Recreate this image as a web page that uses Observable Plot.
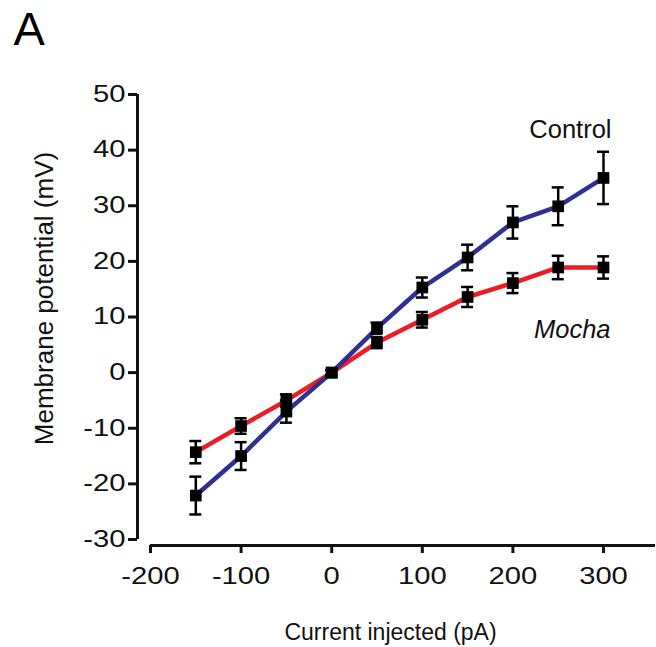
<!DOCTYPE html>
<html>
<head>
<meta charset="utf-8">
<script src="https://cdn.jsdelivr.net/npm/d3@7"></script>
<script src="https://cdn.jsdelivr.net/npm/@observablehq/plot@0.6"></script>
<style>
  html, body { margin: 0; padding: 0; background: #fff; }
  #chart { width: 656px; height: 647px; }
</style>
</head>
<body>
<div id="chart"></div>
<script>
// ---- data ----
const currents = [-150, -100, -50, 0, 50, 100, 150, 200, 250, 300];
const controlMean = [-22.1, -15.0, -7.0, 0, 8.0, 15.3, 20.7, 27.0, 29.9, 35.0];
const controlSem  = [3.4, 2.5, 2.0, 0.5, 1.0, 1.8, 2.3, 2.9, 3.4, 4.7];
const mochaMean   = [-14.3, -9.6, -5.0, 0, 5.4, 9.5, 13.6, 16.1, 18.9, 18.9];
const mochaSem    = [2.0, 1.4, 1.1, 0.4, 1.0, 1.4, 1.8, 1.8, 2.1, 2.0];
const xTicks = [-200, -100, 0, 100, 200, 300];
const yTicks = [-30, -20, -10, 0, 10, 20, 30, 40, 50];
const seriesNames = ["Control", "Mocha"];
const seriesColors = ["#2e3192", "#ed1c24"];

const control = currents.map((x, i) => ({series: "Control", x, y: controlMean[i], e: controlSem[i]}));
const mocha = currents.map((x, i) => ({series: "Mocha", x, y: mochaMean[i], e: mochaSem[i]}));
const all = [...mocha, ...control];

// scale geometry: axes offset from the data frame
const xPx = 453 / 500;        // px per pA
const yPx = 445 / 80;         // px per mV
const xMin = -200 - 13 / xPx; // y-axis line sits left of -200
const xMax = 300 + 52 / xPx;
const yMin = -30 - 6 / yPx;   // x-axis line sits below -30

const font = "'Liberation Sans', Arial, Helvetica, sans-serif";

const svg = Plot.plot({
  width: 656,
  height: 647,
  marginLeft: 137,
  marginRight: 1,
  marginTop: 94,
  marginBottom: 102,
  x: {domain: [xMin, xMax]},
  y: {domain: [yMin, 50]},
  style: {fontFamily: font, background: "#fff", color: "#111"},
  marks: [
    Plot.ruleX([xMin], {y1: -30, y2: 50, stroke: "#111", strokeWidth: 3}),
    Plot.ruleY([yMin], {x1: -200, x2: xMax, stroke: "#111", strokeWidth: 3}),
    Plot.axisX({ticks: xTicks, tickSize: 8, tickPadding: 14, fontSize: 23, strokeWidth: 3, label: null, tickFormat: d => String(d)}),
    Plot.axisY({ticks: yTicks, tickSize: 9, tickPadding: 3, fontSize: 23, strokeWidth: 3, label: null, tickFormat: d => String(d)}),
    Plot.line(mocha, {x: "x", y: "y", stroke: seriesColors[1], strokeWidth: 4.5}),
    Plot.line(control, {x: "x", y: "y", stroke: seriesColors[0], strokeWidth: 4.5}),
    Plot.ruleX(all, {x: "x", y1: d => d.y - d.e, y2: d => d.y + d.e, stroke: "#000", strokeWidth: 2.5}),
    Plot.ruleY(all, {y: d => d.y + d.e, x1: "x", x2: "x", insetLeft: -6, insetRight: -6, stroke: "#000", strokeWidth: 2.5}),
    Plot.ruleY(all, {y: d => d.y - d.e, x1: "x", x2: "x", insetLeft: -6, insetRight: -6, stroke: "#000", strokeWidth: 2.5}),
    Plot.dot(all, {x: "x", y: "y", symbol: "square", r: 6.6, fill: "#000", stroke: "none"}),
    Plot.text(["A"], {frameAnchor: "top-left", dx: -124, dy: -50, textAnchor: "start", lineAnchor: "bottom", fontSize: 47, fill: "#000"}),
    Plot.text([seriesNames[0]], {frameAnchor: "top-right", dx: -44, dy: 43, textAnchor: "end", lineAnchor: "bottom", fontSize: 25.5, fill: "#111"}),
    Plot.text([seriesNames[1]], {frameAnchor: "top-right", dx: -45, dy: 243, textAnchor: "end", lineAnchor: "bottom", fontSize: 25.5, fontStyle: "italic", fill: "#111"}),
    Plot.text(["Current injected (pA)"], {frameAnchor: "bottom", dx: -6, dy: 94, textAnchor: "middle", lineAnchor: "bottom", fontSize: 23, fill: "#111"}),
    Plot.text(["Membrane potential (mV)"], {frameAnchor: "left", dx: -85, dy: -21.5, rotate: -90, textAnchor: "middle", lineAnchor: "bottom", fontSize: 26, fill: "#111"})
  ]
});

// widen the tick-label digits like the reference's wide numerals
d3.select(svg)
  .selectAll('g[aria-label="x-axis tick label"] text, g[aria-label="y-axis tick label"] text')
  .each(function () {
    const t = this.getAttribute("transform") || "";
    this.setAttribute("transform", t + " scale(1.27,1)");
  });

document.getElementById("chart").appendChild(svg);
</script>
</body>
</html>
